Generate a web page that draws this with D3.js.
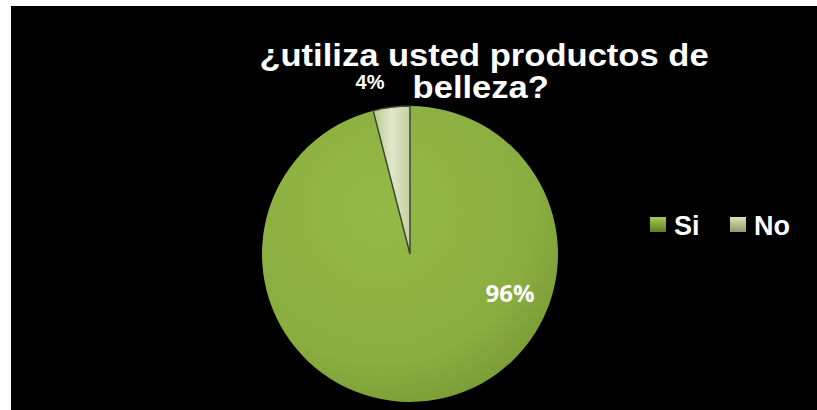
<!DOCTYPE html>
<html>
<head>
<meta charset="utf-8">
<script src="https://cdn.jsdelivr.net/npm/d3@7"></script>
<style>
  html, body { margin: 0; padding: 0; background: #fff; overflow: hidden; }
  svg { display: block; }
</style>
</head>
<body>
<div id="chart"></div>
<script>
// datos del gráfico
const categories = ["Si", "No"];
const values = [96, 4];
const valueLabels = ["96%", "4%"];
const titleLines = ["¿utiliza usted productos de", "belleza?"];

const width = 817, height = 410;

const svg = d3.select("#chart").append("svg")
  .attr("width", width)
  .attr("height", height);

// fondo negro del gráfico
svg.append("rect")
  .attr("x", 11).attr("y", 6)
  .attr("width", width - 11).attr("height", height - 6)
  .attr("fill", "#000");

const defs = svg.append("defs");

// degradados para imitar el sombreado
const gSi = defs.append("radialGradient").attr("id", "grad-si")
  .attr("cx", "40%").attr("cy", "35%").attr("r", "70%");
gSi.append("stop").attr("offset", "0%").attr("stop-color", "#95b946");
gSi.append("stop").attr("offset", "75%").attr("stop-color", "#8aad40");
gSi.append("stop").attr("offset", "100%").attr("stop-color", "#7a9c36");

const gNo = defs.append("linearGradient").attr("id", "grad-no")
  .attr("x1", "0%").attr("y1", "0%").attr("x2", "100%").attr("y2", "0%");
gNo.append("stop").attr("offset", "0%").attr("stop-color", "#b9c98f");
gNo.append("stop").attr("offset", "50%").attr("stop-color", "#dfe6c9");
gNo.append("stop").attr("offset", "100%").attr("stop-color", "#c4d1a0");

const legSi = defs.append("linearGradient").attr("id", "leg-si")
  .attr("x1", "0%").attr("y1", "0%").attr("x2", "0%").attr("y2", "100%");
legSi.append("stop").attr("offset", "0%").attr("stop-color", "#a8c85a");
legSi.append("stop").attr("offset", "100%").attr("stop-color", "#5f7d22");

const legNo = defs.append("linearGradient").attr("id", "leg-no")
  .attr("x1", "0%").attr("y1", "0%").attr("x2", "0%").attr("y2", "100%");
legNo.append("stop").attr("offset", "0%").attr("stop-color", "#d8e2b8");
legNo.append("stop").attr("offset", "100%").attr("stop-color", "#8c9a6a");

const fills = ["url(#grad-si)", "url(#grad-no)"];
const legendFills = ["url(#leg-si)", "url(#leg-no)"];

// pastel
const cx = 410, cy = 254, radius = 148;

const pie = d3.pie().sort(null).value(d => d);
const arcs = pie(values);
const arc = d3.arc().innerRadius(0).outerRadius(radius);

const pieG = svg.append("g").attr("transform", `translate(${cx},${cy})`);

pieG.selectAll("path")
  .data(arcs)
  .join("path")
  .attr("d", arc)
  .attr("fill", (d, i) => fills[i])
  .attr("stroke", (d, i) => i === 1 ? "#3e4634" : "none")
  .attr("stroke-width", 1.5);

// etiquetas de datos
const labelPos = [[510, 302], [370, 89]];
svg.selectAll("text.val")
  .data(arcs)
  .join("text")
  .attr("class", "val")
  .attr("x", (d, i) => labelPos[i][0])
  .attr("y", (d, i) => labelPos[i][1])
  .attr("text-anchor", "middle")
  .attr("fill", "#fff")
  .attr("font-family", (d, i) => i === 0 ? "'Open Sans', sans-serif" : "'Liberation Sans', Arial, sans-serif")
  .attr("font-weight", "bold")
  .attr("font-size", (d, i) => i === 0 ? 24 : 20)
  .text((d, i) => valueLabels[i]);

// título (algo estrecho y alto, como en el original)
const titleG = svg.append("g")
  .attr("transform", "translate(484,0) scale(1.08,1)");
titleG.append("text")
  .attr("x", 0)
  .attr("y", 66)
  .attr("text-anchor", "middle")
  .attr("fill", "#fff")
  .attr("font-family", "'Liberation Sans', Arial, sans-serif")
  .attr("font-weight", "bold")
  .attr("font-size", 32)
  .selectAll("tspan")
  .data(titleLines)
  .join("tspan")
  .attr("x", (d, i) => i === 0 ? 0 : -3)
  .attr("dy", (d, i) => i === 0 ? 0 : 32)
  .text(d => d);

// leyenda
const legendX = [650, 730];
const legend = svg.selectAll("g.legend")
  .data(categories)
  .join("g")
  .attr("class", "legend")
  .attr("transform", (d, i) => `translate(${legendX[i]},217)`);

legend.append("rect")
  .attr("width", 16).attr("height", 15)
  .attr("fill", (d, i) => legendFills[i]);

legend.append("text")
  .attr("x", 24)
  .attr("y", 18)
  .attr("fill", "#fff")
  .attr("font-family", "'Liberation Sans', Arial, sans-serif")
  .attr("font-weight", "bold")
  .attr("font-size", 27)
  .text(d => d);
</script>
</body>
</html>
